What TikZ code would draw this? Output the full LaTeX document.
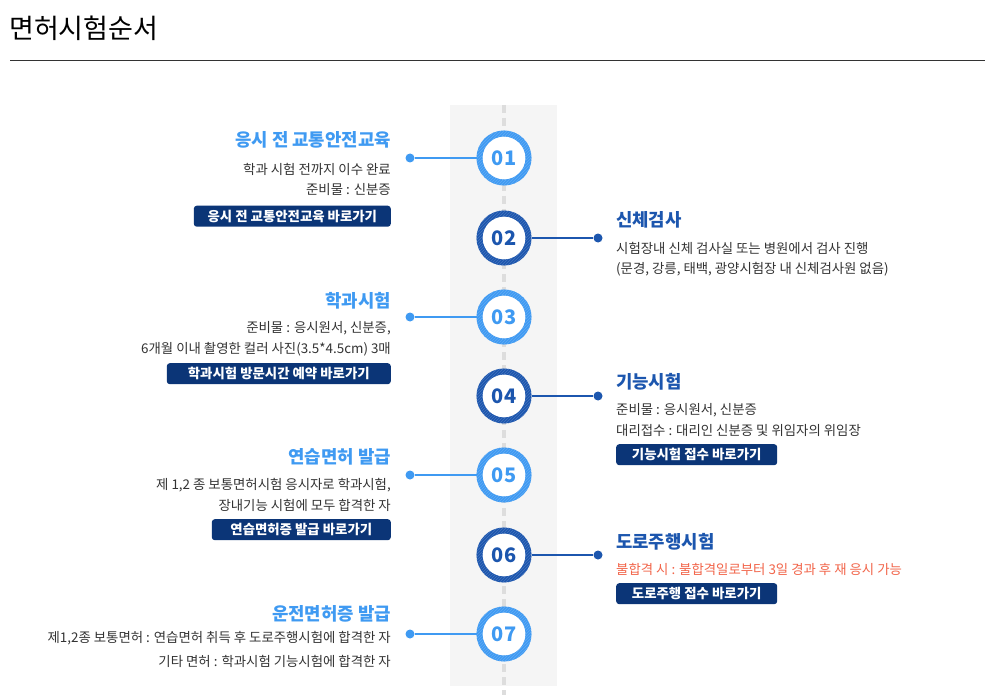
\documentclass[tikz,border=0pt]{standalone}
\usepackage{fontspec}
\setmainfont{Noto Sans CJK KR}
\newfontfamily\kr{Noto Sans CJK KR}
\usetikzlibrary{patterns}
\definecolor{lightb}{HTML}{3F9AF2}
\definecolor{darkb}{HTML}{1C56AE}
\definecolor{navy}{HTML}{0B3577}
\definecolor{bodytxt}{HTML}{333333}
\definecolor{redtxt}{HTML}{F2654A}
\definecolor{band}{HTML}{F5F5F5}
\definecolor{dashc}{HTML}{DDDDDD}
\tikzset{
  x=1pt,y=-1pt,
  ring/.style={circle, minimum size=49pt, inner sep=0pt, line width=6pt, fill=white, font=\kr\fontsize{20}{20}\selectfont\bfseries},
  lring/.style={ring, draw=lightb, text=lightb},
  dring/.style={ring, draw=darkb, text=darkb},
  lhead/.style={anchor=base east, font=\kr\fontsize{17.8}{17.8}\selectfont\bfseries, text=lightb, inner sep=0pt},
  rhead/.style={anchor=base west, font=\kr\fontsize{17.8}{17.8}\selectfont\bfseries, text=darkb, inner sep=0pt},
  lbody/.style={anchor=base east, font=\kr\fontsize{13.4}{13.4}\selectfont, text=bodytxt, inner sep=0pt},
  rbody/.style={anchor=base west, font=\kr\fontsize{13.4}{13.4}\selectfont, text=bodytxt, inner sep=0pt},
  btn/.style={fill=navy, rounded corners=3pt, text=white, font=\kr\fontsize{13.4}{13.4}\selectfont\bfseries, inner sep=0pt, minimum height=21pt},
  lbtn/.style={btn, anchor=north east},
  rbtn/.style={btn, anchor=north west},
  dot/.style={circle, inner sep=0pt, minimum size=9pt},
  conn/.style={line width=2pt},
}
\begin{document}
\begin{tikzpicture}
\useasboundingbox (0,0) rectangle (985,695);
\fill[white] (0,0) rectangle (985,695);
% title
\node[anchor=base west, inner sep=0pt, font=\kr\fontsize{27}{27}\selectfont, text=black] (title) at (9,39) {면허시험순서};
\draw[line width=1pt, color=black!80] (10,60.5) coordinate (r1) -- (985,60.5) coordinate (r2);
% band
\fill[band] (450,105) rectangle (557,686);
\draw[dashc, line width=4pt, dash pattern=on 8pt off 5pt] (504,105) coordinate (dtop) -- (504,695) coordinate (dbot);

% circles
\foreach \n/\y/\s in {01/158/lring,02/238/dring,03/317/lring,04/396/dring,05/475/lring,06/555/dring,07/634/lring}{
  \node[\s] (c\n) at (504,\y) {\n};
}
% hatch overlay on rings
\foreach \n/\y/\c in {01/158/lightb,02/238/darkb,03/317/lightb,04/396/darkb,05/475/lightb,06/555/darkb,07/634/lightb}{
  \fill[pattern=north east lines, pattern color=white!18!\c, even odd rule] (504,\y) circle (27.5) (504,\y) circle (21.5);
}

% ---------- item 01 (left)
\node[dot, fill=lightb] (d01) at (410,158) {};
\draw[conn, lightb] (d01) -- (c01);
\node[lhead] (h01) at (391,147) {응시 전 교통안전교육};
\node[lbody] (b01a) at (391,175) {학과 시험 전까지 이수 완료};
\node[lbody] (b01b) at (391,194.5) {준비물 : 신분증};
\node[lbtn, minimum width=197pt] (k01) at (391,205.5) {응시 전 교통안전교육 바로가기};

% ---------- item 02 (right)
\node[dot, fill=darkb] (d02) at (598,238) {};
\draw[conn, darkb] (c02) -- (d02);
\node[rhead] (h02) at (616,226) {신체검사};
\node[rbody] (b02a) at (616,253.5) {시험장내 신체 검사실 또는 병원에서 검사 진행};
\node[rbody] (b02b) at (616,273.5) {(문경, 강릉, 태백, 광양시험장 내 신체검사원 없음)};

% ---------- item 03 (left)
\node[dot, fill=lightb] (d03) at (410,317) {};
\draw[conn, lightb] (d03) -- (c03);
\node[lhead] (h03) at (391,307) {학과시험};
\node[lbody] (b03a) at (391,332.5) {준비물 : 응시원서, 신분증,};
\node[lbody] (b03b) at (391,353.5) {6개월 이내 촬영한 컬러 사진(3.5*4.5cm) 3매};
\node[lbtn, minimum width=224pt] (k03) at (391,363) {학과시험 방문시간 예약 바로가기};

% ---------- item 04 (right)
\node[dot, fill=darkb] (d04) at (598,396) {};
\draw[conn, darkb] (c04) -- (d04);
\node[rhead] (h04) at (616,388) {기능시험};
\node[rbody] (b04a) at (616,414.5) {준비물 : 응시원서, 신분증};
\node[rbody] (b04b) at (616,435.5) {대리접수 : 대리인 신분증 및 위임자의 위임장};
\node[rbtn, minimum width=161pt] (k04) at (616,444) {기능시험 접수 바로가기};

% ---------- item 05 (left)
\node[dot, fill=lightb] (d05) at (410,475) {};
\draw[conn, lightb] (d05) -- (c05);
\node[lhead] (h05) at (391,463) {연습면허 발급};
\node[lbody] (b05a) at (391,489.5) {제 1,2 종 보통면허시험 응시자로 학과시험,};
\node[lbody] (b05b) at (391,510.5) {장내기능 시험에 모두 합격한 자};
\node[lbtn, minimum width=179pt] (k05) at (391,519) {연습면허증 발급 바로가기};

% ---------- item 06 (right)
\node[dot, fill=darkb] (d06) at (598,555) {};
\draw[conn, darkb] (c06) -- (d06);
\node[rhead] (h06) at (616,548) {도로주행시험};
\node[rbody, text=redtxt] (b06a) at (616,574.5) {불합격 시 : 불합격일로부터 3일 경과 후 재 응시 가능};
\node[rbtn, minimum width=161pt] (k06) at (616,583) {도로주행 접수 바로가기};

% ---------- item 07 (left)
\node[dot, fill=lightb] (d07) at (410,634) {};
\draw[conn, lightb] (d07) -- (c07);
\node[lhead] (h07) at (391,620) {운전면허증 발급};
\node[lbody] (b07a) at (391,642.5) {제1,2종 보통면허 : 연습면허 취득 후 도로주행시험에 합격한 자};
\node[lbody] (b07b) at (391,666.5) {기타 면허 : 학과시험 기능시험에 합격한 자};
\end{tikzpicture}
\end{document}
